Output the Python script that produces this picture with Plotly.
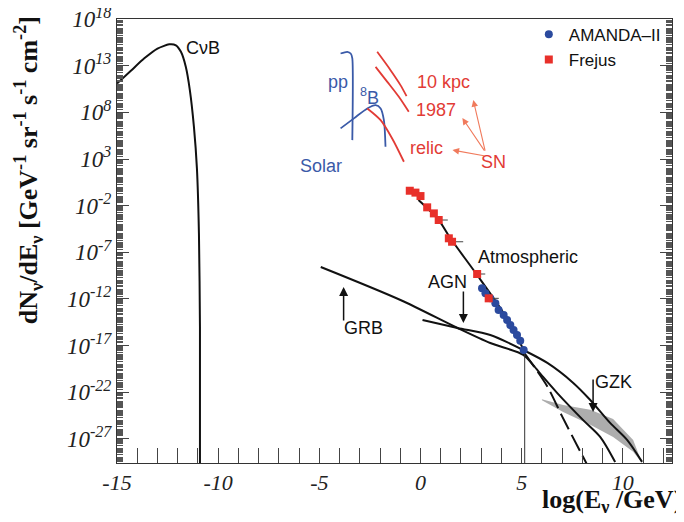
import plotly.graph_objects as go

# ---------------- data (x = log10(E/GeV), y = log10 flux) ----------------
cnb_logE = [-15.0, -14.3, -13.65, -13.0, -12.42, -12.09, -11.84, -11.6, -11.4, -11.2, -11.05, -10.95, -10.9, -10.9]
cnb_logF = [11.1, 12.5, 13.8, 14.85, 15.3, 15.2, 14.5, 12.9, 10.4, 6.5, 2.0, -5.0, -15.0, -29.6]

pp_logE = [-3.95, -3.62, -3.45, -3.37, -3.37]
pp_logF = [14.32, 14.5, 14.32, 13.8, 5.03]

b8_logE = [-3.95, -3.29, -2.63, -2.22, -1.97, -1.81, -1.73]
b8_logF = [6.29, 7.36, 8.43, 8.78, 8.43, 7.17, 4.31]

sn10_logE = [-2.14, -1.48, -0.99, -0.69]
sn10_logF = [14.5, 12.53, 10.93, 9.75]
sn87_logE = [-2.22, -1.64, -1.07, -0.58]
sn87_logF = [12.89, 11.28, 9.67, 8.07]
relic_logE = [-2.63, -1.97, -1.4, -0.82]
relic_logF = [8.43, 7.17, 5.21, 2.71]

atm_logE = [-0.1, 0.9, 1.48, 2.8, 4.11, 5.15]
atm_logF = [-1.4, -3.54, -5.5, -9.44, -13.54, -17.66]

atm_ext_logE = [5.1, 6.27, 7.0, 8.24]
atm_ext_logF = [-17.7, -21.4, -24.6, -29.8]

grb_logE = [-4.93, -0.99, 1.83, 3.45, 5.08, 5.57, 6.07, 6.76, 8.04, 8.88, 9.62]
grb_logF = [-8.58, -12.12, -15.12, -16.73, -18.0, -19.1, -20.4, -22.1, -25.0, -26.8, -29.5]

agn_logE = [0.10, 1.83, 3.45, 5.08, 6.27, 7.55, 8.39, 9.37, 10.21, 10.95]
agn_logF = [-14.26, -15.12, -15.87, -17.48, -18.87, -21.01, -22.84, -25.3, -27.12, -29.48]

vline_logE = [5.15, 5.15]
vline_logF = [-17.6, -29.6]

gzk_up_logE = [6.0, 7.05, 8.39, 9.52, 10.51, 10.95]
gzk_up_logF = [-22.76, -23.37, -23.9, -24.87, -27.12, -29.48]
gzk_lo_logE = [10.95, 10.51, 9.52, 8.39, 7.05, 6.0]
gzk_lo_logF = [-29.6, -28.4, -26.8, -25.5, -24.12, -22.86]

frejus_logE = [-0.53, -0.25, 0.0, 0.33, 0.66, 0.9, 1.4, 1.56, 2.8, 3.37]
frejus_logF = [-0.4, -0.6, -0.97, -2.18, -2.83, -3.54, -5.5, -5.87, -9.33, -11.94]
frejus_xerr = [0, 0, 0, 0, 0, 0.45, 0, 0.55, 0.4, 0.5]

amanda_logE = [3.04, 3.21, 3.45, 3.70, 3.86, 4.11, 4.28, 4.44, 4.60, 4.77, 4.93, 5.10]
amanda_logF = [-10.86, -11.40, -11.94, -12.47, -13.19, -13.73, -14.26, -14.80, -15.34, -15.87, -16.48, -17.48]

y_label_exps = [18, 13, 8, 3, -2, -7, -12, -17, -22, -27]
x_label_vals = [-15, -10, -5, 0, 5, 10]

# ---------------- figure ----------------
BLUE_L = '#3a5aa8'
RED_L = '#e23b35'
BLACK = '#111111'

def lin(v):
    return [10.0 ** a for a in v]

fig = go.Figure()

def line(xs, ys, color=BLACK, width=2, dash='solid', smooth=0.8):
    fig.add_trace(go.Scatter(x=xs, y=lin(ys), mode='lines', showlegend=False,
                             line=dict(color=color, width=width, dash=dash,
                                       shape='spline', smoothing=smooth),
                             hoverinfo='skip'))

# GZK band
fig.add_trace(go.Scatter(x=gzk_up_logE + gzk_lo_logE, y=lin(gzk_up_logF + gzk_lo_logF),
                         fill='toself', fillcolor='#adadad', mode='lines',
                         line=dict(width=0, color='#adadad'), showlegend=False,
                         hoverinfo='skip'))

line(cnb_logE, cnb_logF, smooth=0.6)
line(pp_logE, pp_logF, color=BLUE_L, width=1.8, smooth=0.6)
line(b8_logE, b8_logF, color=BLUE_L, width=1.8)
line(sn10_logE, sn10_logF, color=RED_L, width=1.8)
line(sn87_logE, sn87_logF, color=RED_L, width=1.8)
line(relic_logE, relic_logF, color=RED_L, width=1.8)
line(atm_logE, atm_logF)
line(atm_ext_logE, atm_ext_logF, dash='18px,6px')
line(grb_logE, grb_logF)
line(agn_logE, agn_logF)
fig.add_trace(go.Scatter(x=vline_logE, y=lin(vline_logF), mode='lines', showlegend=False,
                         line=dict(color='#333333', width=1), hoverinfo='skip'))

fig.add_trace(go.Scatter(x=amanda_logE, y=lin(amanda_logF), mode='markers', name='AMANDA\u2013II',
                         marker=dict(symbol='circle', size=8, color='#2b4a9e',
                                     line=dict(width=0))))
fig.add_trace(go.Scatter(x=frejus_logE, y=lin(frejus_logF), mode='markers', name='Frejus',
                         marker=dict(symbol='square', size=8, color='#e8302a',
                                     line=dict(width=0)),
                         error_x=dict(type='data', symmetric=False, array=frejus_xerr,
                                      arrayminus=[0] * len(frejus_xerr), color='#444444',
                                      thickness=1, width=0)))

# ---------------- annotations ----------------
ann = []
def txt(x, y, s, color=BLACK, size=18, xanchor='center'):
    ann.append(dict(x=x, y=y, xref='x', yref='y', text=s, showarrow=False,
                    xanchor=xanchor, yanchor='middle',
                    font=dict(family='Liberation Sans', size=size, color=color)))

txt(-11.7, 14.9, 'C\u03bdB', xanchor='left')
txt(-4.1, 11.25, 'pp', color=BLUE_L)
txt(-2.5, 9.7, '<sup>8</sup>B', color=BLUE_L)
txt(-4.93, 2.24, 'Solar', color=BLUE_L)
txt(1.13, 11.25, '10 kpc', color=RED_L)
txt(0.79, 8.25, '1987', color=RED_L)
txt(0.3, 4.17, 'relic', color=RED_L)
txt(3.6, 2.67, 'SN', color=RED_L)
txt(5.33, -7.5, 'Atmospheric')
txt(1.33, -10.2, 'AGN')
txt(-2.81, -15.1, 'GRB')
txt(9.52, -20.9, 'GZK')

def arrow(x, y, ax, ay, color=BLACK, width=1.5):
    ann.append(dict(x=x, y=y, ax=ax, ay=ay, xref='x', yref='y', axref='x', ayref='y',
                    text='', showarrow=True, arrowhead=2, arrowsize=1.2,
                    arrowwidth=width, arrowcolor=color))

arrow(-3.8, -10.72, -3.8, -14.48)
arrow(2.12, -14.58, 2.12, -11.05)
arrow(8.53, -24.12, 8.53, -20.48)
SNC = '#f07a5c'
arrow(2.61, 9.32, 3.21, 3.74, color=SNC, width=1.1)
arrow(2.07, 7.39, 3.21, 3.74, color=SNC, width=1.1)
arrow(1.58, 3.96, 3.21, 3.32, color=SNC, width=1.1)

# axis titles
ann.append(dict(x=-0.160, y=0.66, xref='paper', yref='paper', textangle=-90, showarrow=False,
                text='dN<sub>\u03bd</sub>/dE<sub>\u03bd</sub> [GeV<sup>-1</sup> sr<sup>-1</sup> s<sup>-1</sup> cm<sup>-2</sup>]',
                font=dict(family='Liberation Serif', size=26, color=BLACK, weight='bold'),
                xanchor='center', yanchor='middle'))
ann.append(dict(x=1.021, y=-0.085, xref='paper', yref='paper', showarrow=False,
                text='log(E<sub>\u03bd</sub> /GeV)',
                font=dict(family='Liberation Serif', size=26, color=BLACK, weight='bold'),
                xanchor='right', yanchor='middle'))

y_tickvals = [10.0 ** k for k in y_label_exps]
y_ticktext = ['10<sup>%d</sup>' % k for k in y_label_exps]
y_minor = sorted(set([m * 10.0 ** k for k in range(-30, 18) for m in range(1, 10)]) - set(y_tickvals))

# the page body adds an 8px offset, so margins are shifted by 8px to compensate
fig.update_layout(
    width=684, height=522,
    margin=dict(l=109, r=20, t=11, b=67, autoexpand=False),
    plot_bgcolor='white', paper_bgcolor='white',
    annotations=ann,
    legend=dict(x=0.742, y=1.005, xanchor='left', yanchor='top',
                bgcolor='rgba(0,0,0,0)',
                font=dict(family='Liberation Sans', size=17, color=BLACK)),
    xaxis=dict(range=[-15, 12.43], tickmode='array', tickvals=x_label_vals,
               ticktext=[str(v) for v in x_label_vals],
               ticks='inside', ticklen=15, tickcolor='#444', tickwidth=1,
               showline=True, linecolor='#333', linewidth=1, mirror=True,
               showgrid=False, zeroline=False, automargin=False,
               ticklabeloverflow='allow',
               tickfont=dict(family='Liberation Serif', size=22, style='italic', color='#222'),
               minor=dict(tickmode='array', tickvals=list(range(-14, 13)), ticks='inside',
                          ticklen=15, tickcolor='#444', tickwidth=1, showgrid=False)),
    yaxis=dict(type='log', range=[-29.6, 18.02], tickmode='array', tickvals=y_tickvals,
               ticktext=y_ticktext, ticks='inside', ticklen=12, tickcolor='#444', tickwidth=1,
               showline=True, linecolor='#333', linewidth=1, mirror='ticks',
               showgrid=False, zeroline=False, automargin=False,
               ticklabeloverflow='allow',
               tickfont=dict(family='Liberation Serif', size=23, style='italic', color='#222'),
               minor=dict(tickmode='array', tickvals=y_minor, ticks='inside', ticklen=6,
                          tickcolor='#555', tickwidth=1, showgrid=False)),
)

fig.write_html('out.html')
